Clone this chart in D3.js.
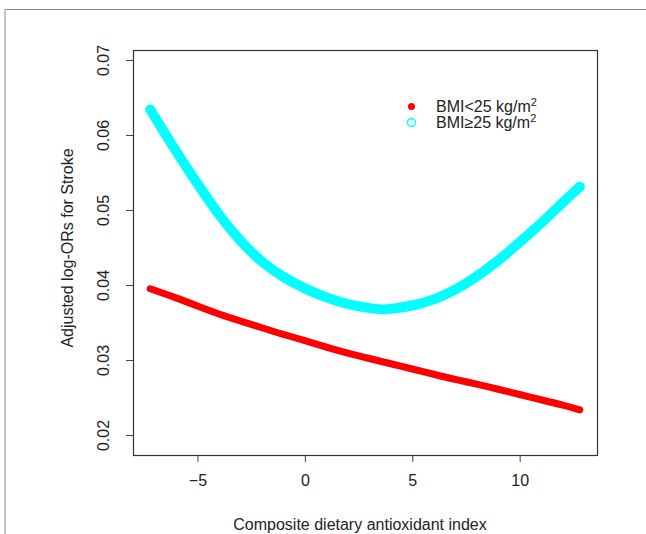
<!DOCTYPE html>
<html>
<head>
<meta charset="utf-8">
<script src="https://cdn.jsdelivr.net/npm/d3@7"></script>
<style>
  body { margin: 0; background: #fff; }
  text { font-family: "Liberation Sans", Arial, sans-serif; fill: #222; }
</style>
</head>
<body>
<script>

// Data
const cdaiLow = [-7.2, -6, -5, -4, -3, -2, -1, 0, 1, 2, 3, 4, 5, 6, 7, 8, 9, 10, 11, 12, 12.8];
const orLow   = [0.0395, 0.0383, 0.0372, 0.0361, 0.0352, 0.0343, 0.0334, 0.0326, 0.0317, 0.0309, 0.0302, 0.0295, 0.0288, 0.0281, 0.0274, 0.0268, 0.0261, 0.0254, 0.0247, 0.0240, 0.02335];
const cdaiHigh = [-7.2, -6, -5, -4, -3, -2, -1, 0, 1, 2, 3, 3.6, 4, 5, 6, 7, 8, 9, 10, 11, 12, 12.8];
const orHigh   = [0.0634, 0.0578, 0.0535, 0.0493, 0.0458, 0.0430, 0.0410, 0.0395, 0.0383, 0.0374, 0.0369, 0.0367, 0.0368, 0.0372, 0.0380, 0.0393, 0.0411, 0.0432, 0.0457, 0.0482, 0.0510, 0.0531];
const xTicks = [-5, 0, 5, 10];
const yTicks = [0.02, 0.03, 0.04, 0.05, 0.06, 0.07];

const W = 646, H = 534;
const box = {left: 133, top: 50, right: 597, bottom: 455};
const fs = 16;

const svg = d3.select("body").append("svg")
    .attr("width", W)
    .attr("height", H);

// outer frame (top and left edges only visible)
svg.append("path")
    .attr("d", `M5,${H} L5,9.5 L${W},9.5`)
    .attr("fill", "none")
    .attr("stroke", "#8a8a8a")
    .attr("stroke-width", 1);

// scales (R style 4% padding)
const x = d3.scaleLinear().domain([-8.0, 13.6]).range([box.left, box.right]);
const y = d3.scaleLinear().domain([0.017333, 0.071333]).range([box.bottom, box.top]);

// axes
const xAxis = svg.append("g")
    .attr("transform", `translate(0,${box.bottom})`)
    .call(d3.axisBottom(x).tickValues(xTicks).tickSize(7).tickPadding(13).tickFormat(d3.format("d")));
xAxis.select(".domain").remove();
xAxis.selectAll("line").attr("stroke", "#444");
xAxis.selectAll("text").attr("font-size", fs).attr("fill", "#222")
    .style("font-family", "'Liberation Sans', Arial, sans-serif");

const yAxis = svg.append("g")
    .attr("transform", `translate(${box.left},0)`)
    .call(d3.axisLeft(y).tickValues(yTicks).tickSize(7).tickFormat(d3.format(".2f")));
yAxis.select(".domain").remove();
yAxis.selectAll("line").attr("stroke", "#444");
yAxis.selectAll("text")
    .attr("font-size", fs).attr("fill", "#222")
    .style("font-family", "'Liberation Sans', Arial, sans-serif")
    .attr("text-anchor", "middle")
    .attr("x", 0).attr("dy", 0)
    .attr("transform", "translate(-24,0) rotate(-90)");

// plot box
svg.append("rect")
    .attr("x", box.left + 0.5).attr("y", box.top + 0.5)
    .attr("width", box.right - box.left).attr("height", box.bottom - box.top)
    .attr("fill", "none").attr("stroke", "#333").attr("stroke-width", 1.2);

// curves
const line = d3.line().curve(d3.curveBasis);

svg.append("path")
    .datum(cdaiHigh.map((v, i) => [x(v), y(orHigh[i])]))
    .attr("d", line)
    .attr("fill", "none")
    .attr("stroke", "#00FFFF")
    .attr("stroke-width", 10)
    .attr("stroke-linecap", "round");

svg.append("path")
    .datum(cdaiLow.map((v, i) => [x(v), y(orLow[i])]))
    .attr("d", line)
    .attr("fill", "none")
    .attr("stroke", "#FF0000")
    .attr("stroke-width", 7)
    .attr("stroke-linecap", "round");

// axis titles
svg.append("text")
    .attr("x", 360).attr("y", 530)
    .attr("text-anchor", "middle")
    .attr("font-size", fs)
    .text("Composite dietary antioxidant index");

svg.append("text")
    .attr("transform", "translate(73,248) rotate(-90)")
    .attr("text-anchor", "middle")
    .attr("font-size", fs)
    .text("Adjusted log-ORs for Stroke");

// legend
const legend = svg.append("g");
legend.append("circle")
    .attr("cx", 411.5).attr("cy", 106.5).attr("r", 3.5)
    .attr("fill", "#FF0000");
legend.append("circle")
    .attr("cx", 411.5).attr("cy", 122.5).attr("r", 4)
    .attr("fill", "none").attr("stroke", "#00FFFF").attr("stroke-width", 1.5);

const labels = ["BMI<25 kg/m", "BMI\u226525 kg/m"];
labels.forEach((lab, i) => {
    const t = legend.append("text")
        .attr("x", 436).attr("y", 112 + i * 16)
        .attr("font-size", fs);
    t.append("tspan").text(lab);
    t.append("tspan").attr("font-size", 11).attr("dy", -6).text("2");
});

</script>
</body>
</html>
